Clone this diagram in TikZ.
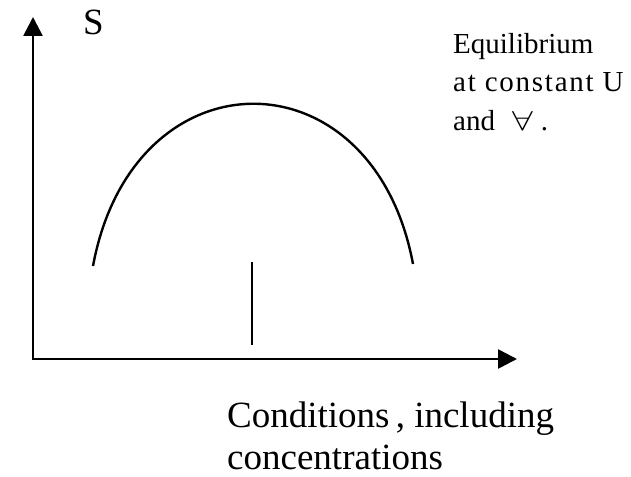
\documentclass[tikz,border=0pt]{standalone}
\usepackage{fontspec}
\setmainfont{Liberation Serif}
\usetikzlibrary{arrows.meta}

\begin{document}
\begin{tikzpicture}[
  x=1pt, y=-1pt,
  axis/.style     = {line width=2.6pt, {Triangle[length=19pt,width=19pt]}-{Triangle[length=19pt,width=19pt]}},
  curve/.style    = {line width=2.4pt},
  biglbl/.style   = {anchor=base west, inner sep=0pt, font=\fontsize{37}{43}\selectfont},
  smalllbl/.style = {anchor=base west, inner sep=0pt, font=\fontsize{29}{38}\selectfont},
]
\useasboundingbox (0,0) rectangle (631,476);
\coordinate (orig)  at (33,359);
\coordinate (ytip)  at (33,17);
\coordinate (xtip)  at (517,359);
\coordinate (lft)   at (93,266);
\coordinate (rgt)   at (413,264);
\coordinate (tktop) at (252,262);
\coordinate (tkbot) at (252,345);
% axes
\draw[axis] (ytip) -- (orig) -- (xtip);
% entropy curve and its maximum
\draw[curve] (lft) .. controls (133,50) and (373,50) .. (rgt);
\draw[curve] (tktop) -- (tkbot);
% labels
\node[biglbl]   (slbl)  at (83,35)   {S};
\node[smalllbl] (eq1)   at (453,54)  {Equilibrium};
\node[smalllbl] (eq2)   at (453,92)  {\addfontfeature{LetterSpace=6}at constant U};
\node[smalllbl] (eq3)   at (453,131) {and\hspace{17pt}\scalebox{1.5}[1.1]{$\forall$}\hspace{8pt}.};
\node[biglbl]   (cond1) at (227,427) {Conditions\,, including};
\node[biglbl]   (cond2) at (227,469) {concentrations};
\end{tikzpicture}
\end{document}
